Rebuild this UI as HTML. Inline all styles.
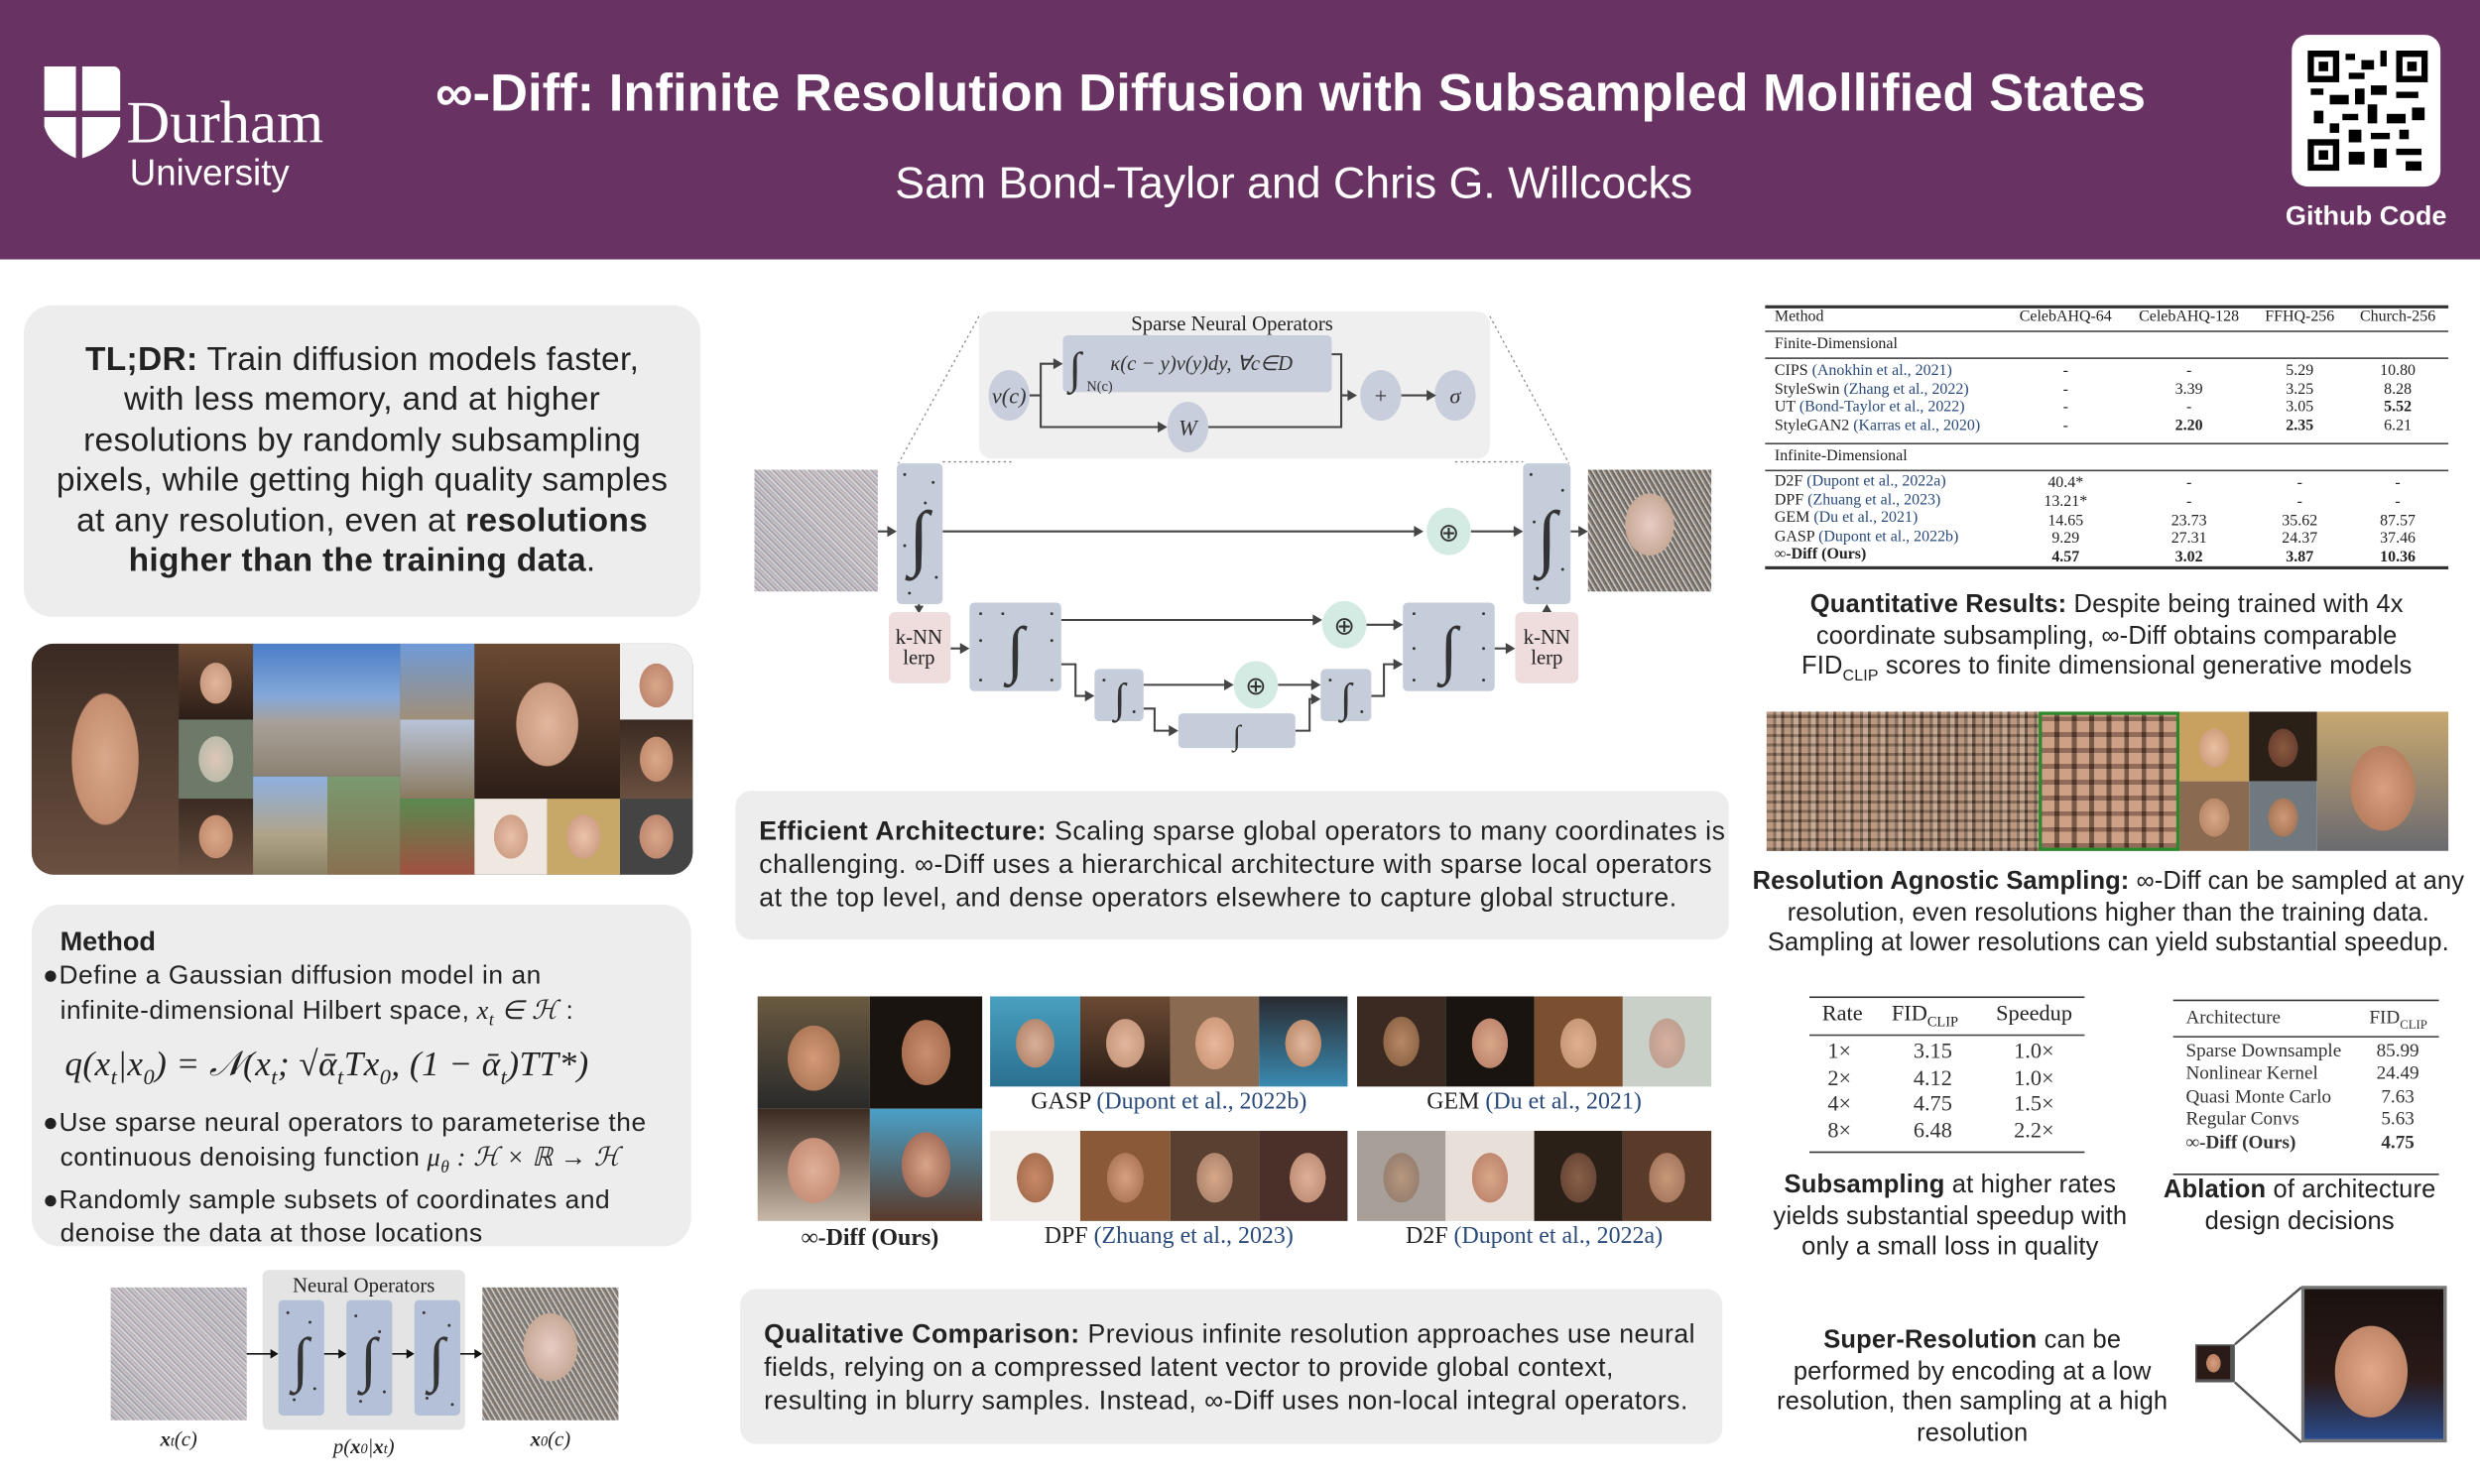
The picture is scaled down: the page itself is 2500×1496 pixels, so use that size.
<!DOCTYPE html>
<html><head><meta charset="utf-8"><style>
*{margin:0;padding:0;box-sizing:border-box}
html,body{width:2500px;height:1496px;overflow:hidden;background:#fff}
#w{position:absolute;left:0;top:0;width:1568px;height:938.3px;transform:scale(1.59439);transform-origin:0 0;font-family:"Liberation Sans",sans-serif;color:#222}
.a{position:absolute}
.nw{white-space:nowrap}
.box{position:absolute;background:#ededed;border-radius:18px}
.f{position:absolute;background:radial-gradient(ellipse 32% 40% at 50% 50%,#d9a88a 0%,#c48d70 70%,rgba(0,0,0,0) 72%),linear-gradient(#3a2a22,#6a5040)}
.f2{position:absolute;background:radial-gradient(ellipse 30% 38% at 50% 52%,#e2b79c 0%,#c99a80 70%,rgba(0,0,0,0) 72%),linear-gradient(#6b4a33,#2c1e18)}
.f3{position:absolute;background:radial-gradient(ellipse 30% 38% at 50% 52%,#d8b09a 0%,#b88a70 70%,rgba(0,0,0,0) 72%),linear-gradient(#4aa0c0,#2a6f90)}
.noise{position:absolute;background:repeating-linear-gradient(45deg,#b5b2b8 0 1px,#d9d4d4 1px 2px,#9fa3b0 2px 3px,#cfc1c5 3px 4px)}
.sf{font-family:"Liberation Serif",serif}
.ser{font-family:"Liberation Serif",serif;font-size:10px;color:#222}
.cite{color:#2a4a7a}
</style></head><body><div id="w">
<!-- header -->
<div class="a" style="left:0;top:0;width:1568px;height:164px;background:#683262"></div>
<svg class="a" style="left:26px;top:40px" width="52" height="62"><path d="M2 2h20v28H2z M26 2h20c2 0 4 2 4 4v24H26z M2 34h20v26C12 56 4 48 2 40z M26 34h24v6c-2 8-10 16-24 20z" fill="#fff"/></svg>
<div class="a" style="left:80px;top:58px;color:#fff;font-family:'Liberation Serif',serif;font-size:38px;line-height:40px">Durham</div>
<div class="a" style="left:82px;top:96px;color:#fff;font-size:23px">University</div>
<div class="a" style="left:216px;top:38px;width:1200px;text-align:center;color:#fff;font-weight:bold;font-size:33px;line-height:42px">∞-Diff: Infinite Resolution Diffusion with Subsampled Mollified States</div>
<div class="a" style="left:418px;top:98px;width:800px;text-align:center;color:#fff;font-size:28px;line-height:36px">Sam Bond-Taylor and Chris G. Willcocks</div>
<div class="a" style="left:1449px;top:22px;width:94px;height:96px;background:#fff;border-radius:10px"></div>
<svg class="a" style="left:1459px;top:32px" width="76" height="76"><rect x="0" y="0" width="20" height="20" fill="#000"/><rect x="4" y="4" width="12" height="12" fill="#fff"/><rect x="7" y="7" width="6" height="6" fill="#000"/><rect x="56" y="0" width="20" height="20" fill="#000"/><rect x="60" y="4" width="12" height="12" fill="#fff"/><rect x="63" y="7" width="6" height="6" fill="#000"/><rect x="0" y="56" width="20" height="20" fill="#000"/><rect x="4" y="60" width="12" height="12" fill="#fff"/><rect x="7" y="63" width="6" height="6" fill="#000"/><g fill="#000"><rect x="24" y="2" width="6" height="4"/><rect x="34" y="6" width="8" height="6"/><rect x="46" y="0" width="4" height="10"/><rect x="26" y="14" width="10" height="4"/><rect x="2" y="24" width="8" height="4"/><rect x="14" y="28" width="12" height="6"/><rect x="30" y="24" width="6" height="10"/><rect x="40" y="22" width="10" height="6"/><rect x="56" y="26" width="14" height="4"/><rect x="4" y="38" width="6" height="8"/><rect x="22" y="40" width="10" height="4"/><rect x="38" y="34" width="6" height="12"/><rect x="50" y="40" width="12" height="6"/><rect x="66" y="36" width="8" height="8"/><rect x="26" y="50" width="8" height="8"/><rect x="40" y="52" width="12" height="4"/><rect x="58" y="50" width="6" height="6"/><rect x="26" y="64" width="10" height="8"/><rect x="42" y="62" width="8" height="12"/><rect x="56" y="62" width="16" height="4"/><rect x="62" y="70" width="10" height="6"/><rect x="14" y="46" width="6" height="6"/></g></svg>
<div class="a" style="left:1436px;top:127px;width:120px;text-align:center;color:#fff;font-weight:bold;font-size:17px">Github Code</div>

<!-- TLDR -->
<div class="box" style="left:15px;top:193px;width:428px;height:197px"></div>
<div class="a nw" style="left:15px;top:215px;width:428px;text-align:center;font-size:21px;line-height:25.4px;letter-spacing:0.2px"><b>TL;DR:</b> Train diffusion models faster,<br>with less memory, and at higher<br>resolutions by randomly subsampling<br>pixels, while getting high quality samples<br>at any resolution, even at <b>resolutions</b><br><b>higher than the training data</b>.</div>

<!-- image grid -->
<div class="a" style="left:20px;top:407px;width:418px;height:146px;border-radius:14px;overflow:hidden;background:#555">
<div class="f" style="left:0;top:0;width:93px;height:146px"></div>
<div class="f2" style="left:93px;top:0;width:47px;height:48px"></div><div class="f" style="left:93px;top:48px;width:47px;height:50px;background:radial-gradient(ellipse 32% 40% at 50% 50%,#e0c8b8,#bba 72%,rgba(0,0,0,0) 73%),#6d7a6a"></div><div class="f" style="left:93px;top:98px;width:47px;height:48px"></div>
<div class="a" style="left:140px;top:0;width:93px;height:84px;background:linear-gradient(#4a7ec8 0,#86a8d8 40%,#a8a098 60%,#8c8272)"></div>
<div class="a" style="left:140px;top:84px;width:47px;height:62px;background:linear-gradient(#8fb0e0,#b0a488 60%,#8a8064)"></div><div class="a" style="left:187px;top:84px;width:46px;height:62px;background:linear-gradient(#7a9a70,#887050)"></div>
<div class="a" style="left:233px;top:0;width:47px;height:48px;background:linear-gradient(#6f9ad8,#a09078)"></div><div class="a" style="left:233px;top:48px;width:47px;height:50px;background:linear-gradient(#b8c4d8,#8a7a60)"></div><div class="a" style="left:233px;top:98px;width:47px;height:48px;background:linear-gradient(#5a8a50,#a05040)"></div>
<div class="f2" style="left:280px;top:0;width:92px;height:98px"></div>
<div class="f2" style="left:280px;top:98px;width:46px;height:48px;background:radial-gradient(ellipse 32% 40% at 50% 50%,#e8c0a8,#d0a088 72%,rgba(0,0,0,0) 73%),#efe8e0"></div><div class="f2" style="left:326px;top:98px;width:46px;height:48px;background:radial-gradient(ellipse 32% 40% at 50% 50%,#eac4a8,#d0a088 72%,rgba(0,0,0,0) 73%),#c8a868"></div>
<div class="f" style="left:372px;top:0;width:46px;height:48px;background:radial-gradient(ellipse 32% 40% at 50% 55%,#d8a888,#c08870 72%,rgba(0,0,0,0) 73%),#eee"></div><div class="f" style="left:372px;top:48px;width:46px;height:50px"></div><div class="f" style="left:372px;top:98px;width:46px;height:48px;background:radial-gradient(ellipse 32% 40% at 50% 50%,#d8a888,#c08870 72%,rgba(0,0,0,0) 73%),#444"></div>
</div>

<!-- Method -->
<div class="box" style="left:20px;top:572px;width:417px;height:216px"></div>
<div class="a" style="left:38px;top:586px;font-size:17px;font-weight:bold">Method</div>
<div class="a nw" style="left:27px;top:607px;width:405px;font-size:16.5px;line-height:21px;letter-spacing:0.35px">
<div>●Define a Gaussian diffusion model in an</div>
<div style="padding-left:11px">infinite-dimensional Hilbert space,<i class="sf"> x<sub style="font-size:11px">t</sub> ∈ ℋ</i> :</div>
<div class="sf" style="font-size:22px;line-height:34px;padding-left:14px;font-style:italic;letter-spacing:0.3px">q(x<sub style="font-size:14px">t</sub>|x<sub style="font-size:14px">0</sub>) = 𝒩(x<sub style="font-size:14px">t</sub>; √ᾱ<sub style="font-size:14px">t</sub>Tx<sub style="font-size:14px">0</sub>, (1 − ᾱ<sub style="font-size:14px">t</sub>)TT*)</div>
<div>●Use sparse neural operators to parameterise the</div>
<div style="padding-left:11px">continuous denoising function<i class="sf"> μ<sub style="font-size:11px">θ</sub> : ℋ × ℝ → ℋ</i></div>
<div>●Randomly sample subsets of coordinates and</div>
<div style="padding-left:11px">denoise the data at those locations</div>
</div>

<!-- bottom-left diagram -->
<div class="noise" style="left:70px;top:814px;width:86px;height:84px"></div>
<div class="a" style="left:166px;top:803px;width:128px;height:101px;background:#e4e4e4;border-radius:4px"></div>
<div class="a sf" style="left:166px;top:805px;width:128px;text-align:center;font-size:13px">Neural Operators</div>
<svg class="a" style="left:0;top:790px" width="460" height="148">
<g fill="#b3c0d8"><rect x="176" y="32" width="29" height="73" rx="3"/><rect x="219" y="32" width="29" height="73" rx="3"/><rect x="262" y="32" width="29" height="73" rx="3"/></g>
<g font-family="Liberation Serif" font-size="38" fill="#333" text-anchor="middle"><text x="190" y="82">∫</text><text x="233" y="82">∫</text><text x="276" y="82">∫</text></g>
<g fill="#333"><circle cx="182" cy="40" r=".9"/><circle cx="196" cy="46" r=".9"/><circle cx="186" cy="95" r=".9"/><circle cx="199" cy="88" r=".9"/><circle cx="225" cy="42" r=".9"/><circle cx="240" cy="52" r=".9"/><circle cx="228" cy="96" r=".9"/><circle cx="243" cy="90" r=".9"/><circle cx="268" cy="40" r=".9"/><circle cx="284" cy="48" r=".9"/><circle cx="270" cy="94" r=".9"/><circle cx="286" cy="98" r=".9"/></g>
<g stroke="#111" stroke-width="1"><line x1="156" y1="66" x2="172" y2="66"/><line x1="205" y1="66" x2="215" y2="66"/><line x1="248" y1="66" x2="258" y2="66"/><line x1="291" y1="66" x2="301" y2="66"/></g>
<g fill="#111"><path d="M176 66l-5-3v6z"/><path d="M219 66l-5-3v6z"/><path d="M262 66l-5-3v6z"/><path d="M305 66l-5-3v6z"/></g>
<g font-family="Liberation Serif" font-size="13" fill="#222" font-style="italic" text-anchor="middle"><text x="113" y="124"><tspan font-weight="bold">x</tspan><tspan font-size="9">t</tspan>(c)</text><text x="230" y="129">p(<tspan font-weight="bold">x</tspan><tspan font-size="9">0</tspan>|<tspan font-weight="bold">x</tspan><tspan font-size="9">t</tspan>)</text><text x="348" y="124"><tspan font-weight="bold">x</tspan><tspan font-size="9">0</tspan>(c)</text></g>
</svg>
<div class="a" style="left:305px;top:814px;width:86px;height:84px;background:radial-gradient(ellipse 28% 36% at 50% 45%,#e8ccc4,#c8aa98 70%,rgba(0,0,0,0) 72%),repeating-linear-gradient(60deg,#777 0 1px,#c8c4c0 1px 2px,#8a7d70 2px 3px)"></div>

<!-- main diagram -->
<svg class="a" style="left:0;top:0" width="1568" height="480">
<rect x="619" y="197" width="323" height="93" rx="8" fill="#efefef"/>
<g stroke="#888" stroke-dasharray="1.5,2" stroke-width=".8"><line x1="619" y1="200" x2="568" y2="293"/><line x1="942" y1="200" x2="992" y2="293"/><line x1="596" y1="292" x2="640" y2="292"/><line x1="920" y1="292" x2="963" y2="292"/></g>
<text x="779" y="209" font-family="Liberation Serif" font-size="13" text-anchor="middle" fill="#222">Sparse Neural Operators</text>
<rect x="672" y="212" width="170" height="36" rx="3" fill="#c8cedb"/>
<text x="676" y="242" font-family="Liberation Serif" font-size="28" fill="#333">∫</text>
<text x="687" y="247" font-family="Liberation Serif" font-size="9" fill="#333">N(c)</text>
<text x="702" y="234" font-family="Liberation Serif" font-size="13" font-style="italic" fill="#333">κ(c − y)v(y)dy, ∀c∈D</text>
<g fill="#c8cedb"><ellipse cx="638" cy="250" rx="13" ry="16"/><ellipse cx="751" cy="270" rx="13" ry="16"/><ellipse cx="873" cy="250" rx="13" ry="16"/><ellipse cx="920" cy="250" rx="13" ry="16"/></g>
<g font-family="Liberation Serif" font-size="14" font-style="italic" text-anchor="middle" fill="#333"><text x="638" y="255">v(c)</text><text x="751" y="275">W</text><text x="873" y="255" font-style="normal">+</text><text x="920" y="255">σ</text></g>
<g stroke="#444" stroke-width="1.3" fill="none">
<path d="M651 250h7v-20h10"/><path d="M658 250v20h76"/><path d="M842 224h6v26h6"/><path d="M764 270h84v-20"/><path d="M886 250h20"/>
<path d="M555 336h8"/><path d="M596 336h300"/><path d="M930 336h29"/><path d="M993 336h8"/>
<path d="M581 382v4"/><path d="M601 410h8"/><path d="M671 392h163"/><path d="M864 395h19"/><path d="M945 410h9"/><path d="M978 387v-2"/>
<path d="M671 420h9v20h8"/><path d="M723 433h56"/><path d="M808 433h23"/><path d="M723 448h7v14h11"/><path d="M819 462h9v-20h3"/><path d="M867 440h8v-20h8"/>
</g>
<g fill="#444"><path d="M567 336l-6-3.5v7z"/><path d="M900 336l-6-3.5v7z"/><path d="M963 336l-6-3.5v7z"/><path d="M1004 336l-6-3.5v7z"/><path d="M672 230l-6-3.5v7z"/><path d="M738 270l-6-3.5v7z"/><path d="M858 250l-6-3.5v7z"/><path d="M908 250l-6-3.5v7z"/>
<path d="M581 388l-3-5h6z"/><path d="M613 410l-6-3.5v7z"/><path d="M836 392l-6-3.5v7z"/><path d="M887 395l-6-3.5v7z"/><path d="M958 410l-6-3.5v7z"/><path d="M978 382l-3 5h6z"/><path d="M692 440l-6-3.5v7z"/><path d="M780 433l-6-3.5v7z"/><path d="M835 433l-6-3.5v7z"/><path d="M745 462l-6-3.5v7z"/><path d="M835 442l-6-3.5v7z"/><path d="M887 420l-6-3.5v7z"/></g>
<g fill="#c5cddb"><rect x="567" y="293" width="29" height="89" rx="3"/><rect x="963" y="293" width="30" height="89" rx="3"/><rect x="613" y="381" width="58" height="56" rx="3"/><rect x="887" y="381" width="58" height="56" rx="3"/><rect x="692" y="423" width="31" height="33" rx="3"/><rect x="835" y="423" width="32" height="33" rx="3"/><rect x="745" y="451" width="74" height="22" rx="3"/></g>
<g fill="#efdcdc"><rect x="562" y="387" width="39" height="45" rx="4"/><rect x="958" y="387" width="40" height="45" rx="4"/></g>
<g fill="#d3ebe3"><ellipse cx="916" cy="336" rx="14" ry="15"/><ellipse cx="850" cy="395" rx="14" ry="15"/><ellipse cx="794" cy="433" rx="14" ry="15"/></g>
<g font-family="Liberation Serif" font-size="16" text-anchor="middle" fill="#333"><text x="916" y="342">⊕</text><text x="850" y="401">⊕</text><text x="794" y="439">⊕</text></g>
<g font-family="Liberation Serif" font-size="13" text-anchor="middle" fill="#222"><text x="581" y="407">k-NN</text><text x="581" y="420">lerp</text><text x="978" y="407">k-NN</text><text x="978" y="420">lerp</text></g>
<g font-family="Liberation Serif" text-anchor="middle" fill="#333"><text x="581" y="355" font-size="46">∫</text><text x="978" y="355" font-size="46">∫</text><text x="642" y="424" font-size="40">∫</text><text x="916" y="424" font-size="40">∫</text><text x="708" y="450" font-size="26">∫</text><text x="851" y="450" font-size="26">∫</text><text x="782" y="471" font-size="18">∫</text></g>
<g fill="#333"><circle cx="572" cy="300" r=".9"/><circle cx="590" cy="305" r=".9"/><circle cx="585" cy="318" r=".9"/><circle cx="572" cy="345" r=".9"/><circle cx="592" cy="365" r=".9"/><circle cx="575" cy="375" r=".9"/><circle cx="968" cy="300" r=".9"/><circle cx="988" cy="310" r=".9"/><circle cx="970" cy="330" r=".9"/><circle cx="988" cy="360" r=".9"/><circle cx="972" cy="372" r=".9"/>
<circle cx="620" cy="388" r=".9"/><circle cx="634" cy="388" r=".9"/><circle cx="665" cy="388" r=".9"/><circle cx="620" cy="405" r=".9"/><circle cx="665" cy="405" r=".9"/><circle cx="620" cy="430" r=".9"/><circle cx="665" cy="430" r=".9"/><circle cx="894" cy="388" r=".9"/><circle cx="938" cy="388" r=".9"/><circle cx="894" cy="410" r=".9"/><circle cx="938" cy="410" r=".9"/><circle cx="894" cy="430" r=".9"/><circle cx="938" cy="430" r=".9"/><circle cx="698" cy="430" r=".9"/><circle cx="717" cy="450" r=".9"/><circle cx="841" cy="430" r=".9"/><circle cx="861" cy="450" r=".9"/></g>
</svg>
<div class="noise" style="left:477px;top:297px;width:78px;height:77px"></div>
<div class="a" style="left:1004px;top:297px;width:78px;height:77px;background:radial-gradient(ellipse 28% 36% at 50% 45%,#e8ccc4,#c8aa98 70%,rgba(0,0,0,0) 72%),repeating-linear-gradient(60deg,#666 0 1px,#c8c4c0 1px 2px,#8a7d70 2px 3px)"></div>

<!-- Efficient -->
<div class="box" style="left:465px;top:500px;width:628px;height:94px;border-radius:10px"></div>
<div class="a nw" style="left:480px;top:515px;font-size:16.7px;line-height:21px;letter-spacing:0.35px"><b>Efficient Architecture:</b> Scaling sparse global operators to many coordinates is<br>challenging. ∞-Diff uses a hierarchical architecture with sparse local operators<br>at the top level, and dense operators elsewhere to capture global structure.</div>

<!-- comparisons -->
<div class="f" style="left:479px;top:630px;width:71px;height:71px;background:radial-gradient(ellipse 32% 40% at 50% 55%,#d49a78,#b07a5a 72%,rgba(0,0,0,0) 73%),linear-gradient(#6a5a40,#2a2a2a)"></div>
<div class="f" style="left:550px;top:630px;width:71px;height:71px;background:radial-gradient(ellipse 30% 40% at 50% 50%,#c89070,#a87050 72%,rgba(0,0,0,0) 73%),#1a1410"></div>
<div class="f" style="left:479px;top:701px;width:71px;height:71px;background:radial-gradient(ellipse 32% 40% at 50% 55%,#e0b098,#c89078 72%,rgba(0,0,0,0) 73%),linear-gradient(#3a2a20,#c8b8a8)"></div>
<div class="f" style="left:550px;top:701px;width:71px;height:71px;background:radial-gradient(ellipse 30% 40% at 50% 50%,#d8a488,#a8705a 72%,rgba(0,0,0,0) 73%),linear-gradient(#4aa0c8,#5a3a2a)"></div>
<div class="a sf" style="left:479px;top:775px;width:142px;text-align:center;font-size:15px;font-weight:bold">∞-Diff (Ours)</div>
<div class="f3" style="left:626px;top:630px;width:57px;height:57px"></div><div class="f2" style="left:683px;top:630px;width:57px;height:57px"></div><div class="f2" style="left:740px;top:630px;width:56px;height:57px;background:radial-gradient(ellipse 30% 40% at 50% 52%,#e8b89c,#d09a7c 72%,rgba(0,0,0,0) 73%),#8a6a50"></div><div class="f3" style="left:796px;top:630px;width:56px;height:57px;background:radial-gradient(ellipse 28% 36% at 50% 52%,#e0b8a0,#c09070 72%,rgba(0,0,0,0) 73%),linear-gradient(#2a2a30,#3a8ab0)"></div>
<div class="a sf" style="left:626px;top:689px;width:226px;text-align:center;font-size:15px">GASP <span class="cite">(Dupont et al., 2022b)</span></div>
<div class="f" style="left:858px;top:630px;width:56px;height:57px;background:radial-gradient(ellipse 28% 38% at 50% 50%,#b88868,#906848 72%,rgba(0,0,0,0) 73%),#3a2a22"></div><div class="f" style="left:914px;top:630px;width:56px;height:57px;background:radial-gradient(ellipse 28% 38% at 50% 52%,#d8a888,#c08870 72%,rgba(0,0,0,0) 73%),#1a1410"></div><div class="f" style="left:970px;top:630px;width:56px;height:57px;background:radial-gradient(ellipse 28% 38% at 50% 52%,#e0b090,#c8987a 72%,rgba(0,0,0,0) 73%),#7a5030"></div><div class="f" style="left:1026px;top:630px;width:56px;height:57px;background:radial-gradient(ellipse 28% 38% at 50% 52%,#d8b0a0,#c0a090 72%,rgba(0,0,0,0) 73%),#c8d0c8"></div>
<div class="a sf" style="left:858px;top:689px;width:224px;text-align:center;font-size:15px">GEM <span class="cite">(Du et al., 2021)</span></div>
<div class="f" style="left:626px;top:715px;width:57px;height:57px;background:radial-gradient(ellipse 28% 38% at 50% 52%,#c88a68,#a87050 72%,rgba(0,0,0,0) 73%),#f0ece8"></div><div class="f" style="left:683px;top:715px;width:57px;height:57px;background:radial-gradient(ellipse 28% 38% at 50% 52%,#d8a080,#b07a5a 72%,rgba(0,0,0,0) 73%),#8a5a38"></div><div class="f" style="left:740px;top:715px;width:56px;height:57px;background:radial-gradient(ellipse 28% 38% at 50% 52%,#d8a888,#b08870 72%,rgba(0,0,0,0) 73%),#5a4030"></div><div class="f" style="left:796px;top:715px;width:56px;height:57px;background:radial-gradient(ellipse 28% 38% at 55% 52%,#e0b098,#c09078 72%,rgba(0,0,0,0) 73%),#4a3028"></div>
<div class="a sf" style="left:626px;top:774px;width:226px;text-align:center;font-size:15px">DPF <span class="cite">(Zhuang et al., 2023)</span></div>
<div class="f" style="left:858px;top:715px;width:56px;height:57px;background:radial-gradient(ellipse 28% 38% at 50% 52%,#b89880,#988070 72%,rgba(0,0,0,0) 73%),#a8a098"></div><div class="f" style="left:914px;top:715px;width:56px;height:57px;background:radial-gradient(ellipse 28% 38% at 50% 52%,#d8a888,#c08870 72%,rgba(0,0,0,0) 73%),#e8e0d8"></div><div class="f" style="left:970px;top:715px;width:56px;height:57px;background:radial-gradient(ellipse 28% 38% at 50% 52%,#8a6048,#6a4838 72%,rgba(0,0,0,0) 73%),#2a2018"></div><div class="f" style="left:1026px;top:715px;width:56px;height:57px;background:radial-gradient(ellipse 28% 38% at 50% 52%,#c89878,#a87a60 72%,rgba(0,0,0,0) 73%),#5a3a28"></div>
<div class="a sf" style="left:858px;top:774px;width:224px;text-align:center;font-size:15px">D2F <span class="cite">(Dupont et al., 2022a)</span></div>

<!-- Qualitative -->
<div class="box" style="left:468px;top:815px;width:621px;height:98px;border-radius:10px"></div>
<div class="a nw" style="left:483px;top:833px;font-size:16.7px;line-height:21px;letter-spacing:0.3px"><b>Qualitative Comparison:</b> Previous infinite resolution approaches use neural<br>fields, relying on a compressed latent vector to provide global context,<br>resulting in blurry samples. Instead, ∞-Diff uses non-local integral operators.</div>

<!-- right table -->
<div class="a" style="left:1116px;top:193px;width:432px;height:1.5px;background:#333"></div>
<div class="a" style="left:1116px;top:209px;width:432px;height:1px;background:#444"></div>
<div class="a" style="left:1116px;top:226px;width:432px;height:1px;background:#444"></div>
<div class="a" style="left:1116px;top:280px;width:432px;height:1px;background:#444"></div>
<div class="a" style="left:1116px;top:297px;width:432px;height:1px;background:#444"></div>
<div class="a" style="left:1116px;top:358px;width:432px;height:1.5px;background:#333"></div>
<div class="a ser" style="left:1122px;top:195px;line-height:12px">Method</div>
<div class="a ser" style="left:1122px;top:212px;line-height:12px">Finite-Dimensional</div>
<div class="a ser" style="left:1122px;top:283px;line-height:12px">Infinite-Dimensional</div>
<div class="a ser" style="left:1122px;top:229px;line-height:11.6px">CIPS <span class="cite">(Anokhin et al., 2021)</span><br>StyleSwin <span class="cite">(Zhang et al., 2022)</span><br>UT <span class="cite">(Bond-Taylor et al., 2022)</span><br>StyleGAN2 <span class="cite">(Karras et al., 2020)</span></div>
<div class="a ser" style="left:1122px;top:299px;line-height:11.6px">D2F <span class="cite">(Dupont et al., 2022a)</span><br>DPF <span class="cite">(Zhuang et al., 2023)</span><br>GEM <span class="cite">(Du et al., 2021)</span><br>GASP <span class="cite">(Dupont et al., 2022b)</span><br><b>∞-Diff (Ours)</b></div>
<div class="a ser" style="left:1271px;top:195px;width:70px;text-align:center;line-height:12px">CelebAHQ-64<div style="margin-top:22px;line-height:11.6px">-<br>-<br>-<br>-</div><div style="margin-top:25px;line-height:11.6px">40.4*<br>13.21*<br>14.65<br>9.29<br><b>4.57</b></div></div>
<div class="a ser" style="left:1346px;top:195px;width:76px;text-align:center;line-height:12px">CelebAHQ-128<div style="margin-top:22px;line-height:11.6px">-<br>3.39<br>-<br><b>2.20</b></div><div style="margin-top:25px;line-height:11.6px">-<br>-<br>23.73<br>27.31<br><b>3.02</b></div></div>
<div class="a ser" style="left:1424px;top:195px;width:60px;text-align:center;line-height:12px">FFHQ-256<div style="margin-top:22px;line-height:11.6px">5.29<br>3.25<br>3.05<br><b>2.35</b></div><div style="margin-top:25px;line-height:11.6px">-<br>-<br>35.62<br>24.37<br><b>3.87</b></div></div>
<div class="a ser" style="left:1486px;top:195px;width:60px;text-align:center;line-height:12px">Church-256<div style="margin-top:22px;line-height:11.6px">10.80<br>8.28<br><b>5.52</b><br>6.21</div><div style="margin-top:25px;line-height:11.6px">-<br>-<br>87.57<br>37.46<br><b>10.36</b></div></div>
<div class="a nw" style="left:1106px;top:373px;width:452px;text-align:center;font-size:16px;line-height:19.5px;letter-spacing:0.1px"><b>Quantitative Results:</b> Despite being trained with 4x<br>coordinate subsampling, ∞-Diff obtains comparable<br>FID<sub style="font-size:10px;line-height:0">CLIP</sub> scores to finite dimensional generative models</div>

<!-- faces strip -->
<div class="a" style="left:1117px;top:450px;width:173px;height:88px;background:repeating-linear-gradient(90deg,#b89078 0 4px,#6a5a4a 4px 6px,#c8a890 6px 9px,#4a3a30 9px 11px),#888"></div>
<div class="a" style="left:1117px;top:450px;width:173px;height:88px;background:repeating-linear-gradient(0deg,rgba(60,50,40,.4) 0 2px,rgba(200,170,150,.3) 2px 6px)"></div>
<div class="a" style="left:1289px;top:450px;width:89px;height:88px;border:2px solid #2a8a2a;background:repeating-linear-gradient(90deg,#c89880 0 8px,#5a4030 8px 11px),#777"></div>
<div class="a" style="left:1291px;top:452px;width:85px;height:84px;background:repeating-linear-gradient(0deg,rgba(60,40,30,.4) 0 3px,rgba(230,190,160,.2) 3px 10px)"></div>
<div class="f2" style="left:1378px;top:450px;width:44px;height:44px;background:radial-gradient(ellipse 30% 38% at 50% 52%,#e8c0a0,#d0a080 72%,rgba(0,0,0,0) 73%),#c8a060"></div><div class="f" style="left:1422px;top:450px;width:43px;height:44px;background:radial-gradient(ellipse 30% 38% at 50% 52%,#8a5a40,#6a4030 72%,rgba(0,0,0,0) 73%),#2a2018"></div>
<div class="f" style="left:1378px;top:494px;width:44px;height:44px;background:radial-gradient(ellipse 30% 38% at 50% 52%,#d8a888,#b88868 72%,rgba(0,0,0,0) 73%),#8a6a50"></div><div class="f" style="left:1422px;top:494px;width:43px;height:44px;background:radial-gradient(ellipse 30% 38% at 50% 52%,#d09878,#a87858 72%,rgba(0,0,0,0) 73%),#707880"></div>
<div class="f" style="left:1465px;top:450px;width:83px;height:88px;background:radial-gradient(ellipse 34% 42% at 50% 55%,#d8a080,#b88060 72%,rgba(0,0,0,0) 73%),linear-gradient(#c8a870,#6a6a70)"></div>
<div class="a nw" style="left:1106px;top:548px;width:454px;text-align:center;font-size:16px;line-height:19.5px;letter-spacing:0.05px"><b>Resolution Agnostic Sampling:</b> ∞-Diff can be sampled at any<br>resolution, even resolutions higher than the training data.<br>Sampling at lower resolutions can yield substantial speedup.</div>

<!-- small tables -->
<div class="a" style="left:1144px;top:630px;width:174px;height:1.3px;background:#333"></div>
<div class="a" style="left:1144px;top:654px;width:174px;height:1px;background:#444"></div>
<div class="a" style="left:1144px;top:728px;width:174px;height:1.3px;background:#333"></div>
<div class="a sf" style="left:1144px;top:634px;width:174px;font-size:14px;line-height:16px"><span class="a" style="left:8px">Rate</span><span class="a" style="left:52px">FID<sub style="font-size:9px">CLIP</sub></span><span class="a" style="left:118px">Speedup</span></div>
<div class="a sf" style="left:1148px;top:658px;width:30px;text-align:center;font-size:14px;line-height:16.5px;color:#333">1×<br>2×<br>4×<br>8×</div>
<div class="a sf" style="left:1202px;top:658px;width:40px;text-align:center;font-size:14px;line-height:16.5px;color:#333">3.15<br>4.12<br>4.75<br>6.48</div>
<div class="a sf" style="left:1266px;top:658px;width:40px;text-align:center;font-size:14px;line-height:16.5px;color:#333">1.0×<br>1.0×<br>1.5×<br>2.2×</div>
<div class="a nw" style="left:1102px;top:740px;width:262px;text-align:center;font-size:16px;line-height:19.5px;letter-spacing:0.1px"><b>Subsampling</b> at higher rates<br>yields substantial speedup with<br>only a small loss in quality</div>

<div class="a" style="left:1374px;top:632px;width:168px;height:1.3px;background:#333"></div>
<div class="a" style="left:1374px;top:655px;width:168px;height:1px;background:#444"></div>
<div class="a" style="left:1374px;top:742px;width:168px;height:1.3px;background:#333"></div>
<div class="a sf" style="left:1382px;top:636px;font-size:12px;color:#333">Architecture</div>
<div class="a sf" style="left:1498px;top:636px;font-size:12px;color:#333">FID<sub style="font-size:8px">CLIP</sub></div>
<div class="a sf" style="left:1382px;top:657px;font-size:12px;line-height:14.4px;color:#333">Sparse Downsample<br>Nonlinear Kernel<br>Quasi Monte Carlo<br>Regular Convs<br><b>∞-Diff (Ours)</b></div>
<div class="a sf" style="left:1494px;top:657px;width:44px;text-align:center;font-size:12px;line-height:14.4px;color:#333">85.99<br>24.49<br>7.63<br>5.63<br><b>4.75</b></div>
<div class="a nw" style="left:1346px;top:743px;width:216px;text-align:center;font-size:16px;line-height:19.5px;letter-spacing:0.1px"><b>Ablation</b> of architecture<br>design decisions</div>

<!-- super-res -->
<div class="a nw" style="left:1102px;top:838px;width:290px;text-align:center;font-size:16px;line-height:19.5px;letter-spacing:0.1px"><b>Super-Resolution</b> can be<br>performed by encoding at a low<br>resolution, then sampling at a high<br>resolution</div>
<svg class="a" style="left:1385px;top:810px" width="165" height="110"><g stroke="#555" stroke-width="1.5"><line x1="28" y1="40" x2="70" y2="4"/><line x1="28" y1="64" x2="70" y2="102"/></g><rect x="3" y="40" width="25" height="24" fill="#555"/></svg>
<div class="f" style="left:1389px;top:851px;width:21px;height:21px;background:radial-gradient(ellipse 30% 38% at 50% 52%,#d8a080,#b88060 72%,rgba(0,0,0,0) 73%),#2a1a18"></div>
<div class="a" style="left:1455px;top:813px;width:92px;height:99px;border:2px solid #777;background:radial-gradient(ellipse 36% 42% at 48% 55%,#e0a888,#c08868 72%,rgba(0,0,0,0) 73%),linear-gradient(#1a1210 0,#2a1a18 60%,#2a4a8a 100%)"></div>
</div></body></html>
